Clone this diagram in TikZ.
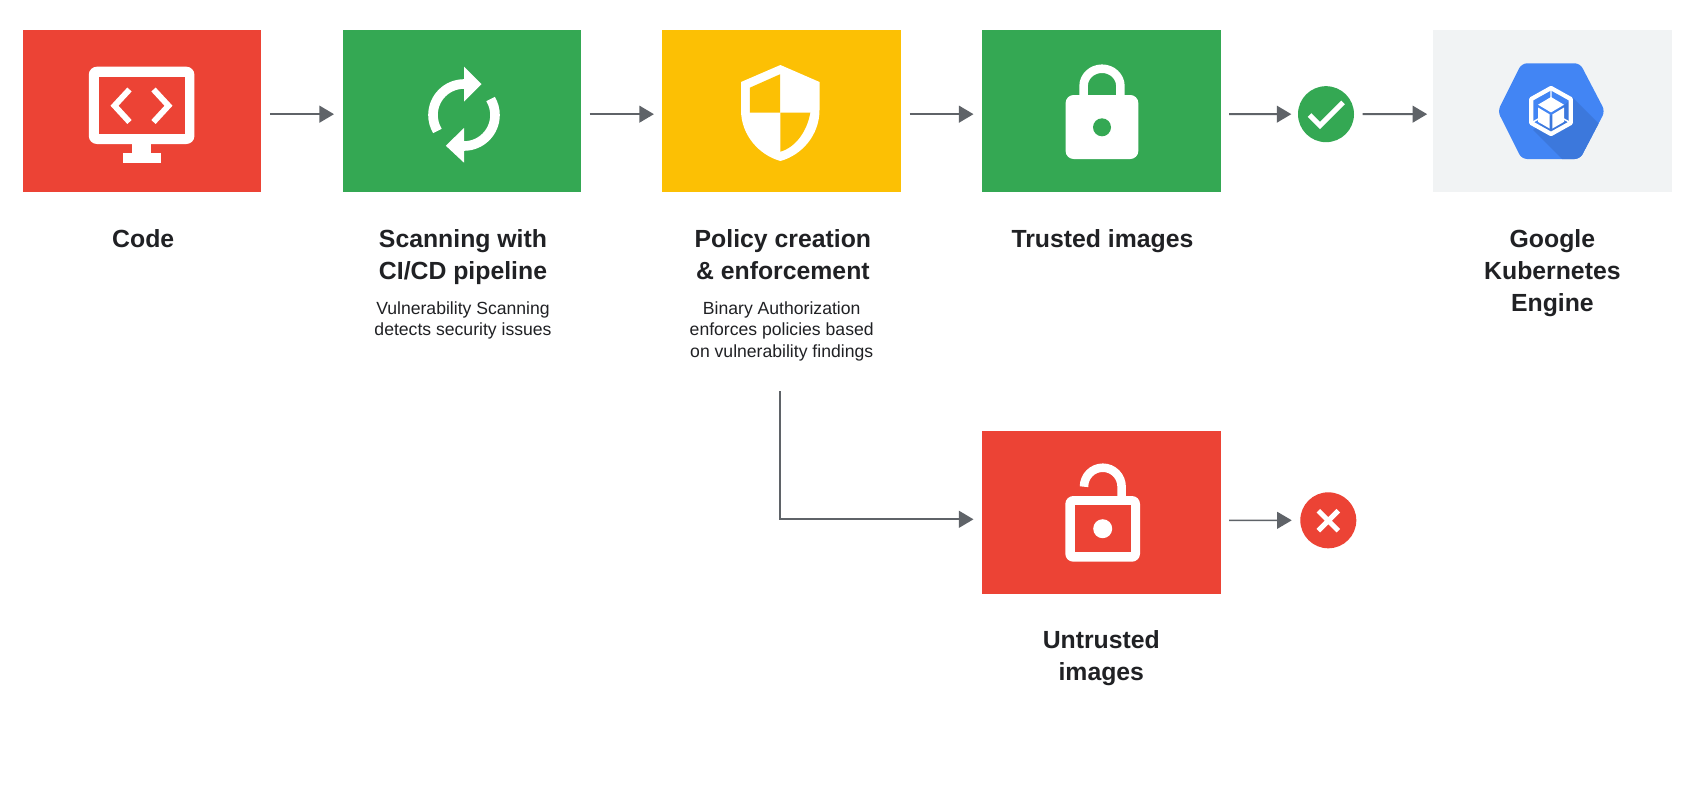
\documentclass[tikz,border=0pt]{standalone}
\usepackage{fontspec}
\setmainfont{Liberation Sans}
\usetikzlibrary{arrows.meta,calc}
\definecolor{gred}{HTML}{EC4335}
\definecolor{ggreen}{HTML}{34A853}
\definecolor{gyellow}{HTML}{FCC004}
\definecolor{gblue}{HTML}{4285F4}
\definecolor{gblued}{HTML}{3C78DC}
\definecolor{gpale}{HTML}{F1F3F4}
\definecolor{garrow}{HTML}{5F6368}
\definecolor{gtext}{HTML}{202124}
\tikzset{
  x=0.75pt,y=-0.75pt,
  stagebox/.style={draw=none,minimum width=178.9pt,minimum height=121.8pt,inner sep=0pt,outer sep=0pt},
  badge/.style={circle,draw=none,minimum size=42pt,inner sep=0pt,outer sep=0pt},
  flow/.style={draw=garrow,line width=1.5pt,-{Triangle[length=10.9pt,width=12.5pt]},shorten <=6.4pt,shorten >=6.4pt},
  heading/.style={anchor=north,align=center,inner sep=0pt,text=gtext,font=\fontsize{18.6}{24}\selectfont\bfseries},
  note/.style={anchor=north,align=center,inner sep=0pt,text=gtext,font=\fontsize{13.2}{16.2}\selectfont},
  glyph/.style={draw=white,fill=none,line join=miter},
}
\begin{document}
\begin{tikzpicture}
\useasboundingbox (0,0) rectangle (1700,793);
\fill[white] (0,0) rectangle (1700,793);
% boxes
\node[stagebox,fill=gred]    (code)   at (142,110.7) {};
\node[stagebox,fill=ggreen]  (scan)   at (461.8,110.7) {};
\node[stagebox,fill=gyellow] (policy) at (781.7,110.7) {};
\node[stagebox,fill=ggreen]  (trust)  at (1101.3,110.7) {};
\node[stagebox,fill=gpale]   (gke)    at (1552.4,110.7) {};
\node[stagebox,fill=gred]    (untrust) at (1101.3,512.5) {};
\node[badge,fill=ggreen] (ok) at (1326,114.17) {};
\node[badge,fill=gred]   (no) at (1328.3,520.3) {};
% connectors
\draw[flow] ([yshift=-2.6pt]code.east) -- ([yshift=-2.6pt]scan.west);
\draw[flow] ([yshift=-2.6pt]scan.east) -- ([yshift=-2.6pt]policy.west);
\draw[flow] ([yshift=-2.6pt]policy.east) -- ([yshift=-2.6pt]trust.west);
\draw[flow,shorten >=5pt] ([yshift=-2.6pt]trust.east) -- (ok.west);
\draw[flow,shorten >=4.5pt] (ok.east) -- ([yshift=-2.6pt]gke.west);
\draw[flow,line width=1.2pt] ([yshift=-5.85pt]untrust.east) -- (no.west);
\coordinate (branch) at (779.5,391.4);
\draw[flow,shorten <=0pt] (branch) |- ([yshift=-5.1pt]untrust.west);
% code icon
\fill[white,rounded corners=6pt] (88.8,66.7) rectangle (194.4,144);
\fill[gred] (98.7,76.7) rectangle (184.5,134.3);
\fill[white] (132,143) rectangle (151,154);
\fill[white] (122.5,153.3) rectangle (160.7,163.3);
\draw[glyph,line width=4.4pt] (129.5,89.5) -- (114.5,105.7) -- (129.5,122);
\draw[glyph,line width=4.4pt] (153.5,89.5) -- (168.5,105.7) -- (153.5,122);
% sync icon
\draw[glyph,line width=7.2pt] (464,84) arc[start angle=90,end angle=211,x radius=31,y radius=-31];
\draw[glyph,line width=7.2pt] (464,146) arc[start angle=270,end angle=391,x radius=31,y radius=-31];
\fill[white] (464,66.7) -- (481.5,84) -- (464,101.7) -- cycle;
\fill[white] (464,128) -- (445.8,145.7) -- (464,162.7) -- cycle;
% shield icon
\fill[white] (780.4,65) -- (819.5,82) -- (819.5,110) .. controls (819.5,135) and (802,155) .. (780.4,161) .. controls (759,155) and (741,135) .. (741,110) -- (741,82) -- cycle;
\fill[gyellow] (749.8,87.7) -- (780,74.3) -- (780,112.7) -- (749.8,112.7) -- cycle;
\fill[gyellow] (780.4,112.7) -- (810.3,112.7) .. controls (807,131) and (796,147) .. (780.4,151.7) -- cycle;
% trusted lock
\draw[glyph,line width=6.4pt] (1083.6,97) -- (1083.6,86) arc[start angle=180,end angle=0,x radius=18.4,y radius=-17.3] -- (1120.4,97);
\fill[white,rounded corners=6pt] (1065.6,95) rectangle (1138.3,159);
\fill[ggreen] (1102,127.3) circle[radius=9];
% hexagon icon
\begin{scope}
\clip[rounded corners=4pt] (1497.7,111.2) -- (1521.7,63.3) -- (1580,63.3) -- (1605,111.2) -- (1580,159) -- (1521.7,159) -- cycle;
\fill[gblue] (1490,55) rectangle (1612,165);
\fill[gblued] (1573,98) -- (1612,137) -- (1612,165) -- (1568,165) -- (1533,130) -- cycle;
\end{scope}
\draw[glyph,line width=3.2pt,line join=round] (1551,88) -- (1570.7,99) -- (1570.7,123) -- (1551,134) -- (1531.3,123) -- (1531.3,99) -- cycle;
\draw[glyph,line width=1.1pt] (1551,88) -- (1551,98) (1531,123) -- (1541,117.5) (1571,123) -- (1561,117.5);
\fill[white] (1551,97) -- (1564,104.7) -- (1551,112.4) -- (1538,104.7) -- cycle;
\fill[white] (1538,107.5) -- (1549.6,114.4) -- (1549.6,128.5) -- (1538,121.8) -- cycle;
\fill[white] (1564,107.5) -- (1552.4,114.4) -- (1552.4,128.5) -- (1564,121.8) -- cycle;
% check and cross
\draw[glyph,line width=3.8pt] (1309.5,115) -- (1320,125.5) -- (1343,102.5);
\draw[glyph,line width=3.8pt] (1318.3,510.7) -- (1338.3,530.7) (1338.3,510.7) -- (1318.3,530.7);
% untrusted lock
\fill[white,rounded corners=6pt] (1065.3,496) rectangle (1140,561.7);
\fill[gred] (1075,505.3) rectangle (1130.7,552.3);
\draw[glyph,line width=6.4pt] (1084,486.7) arc[start angle=180,end angle=0,x radius=18.8,y radius=-19] -- (1121.6,498);
\fill[white] (1102.7,528.7) circle[radius=9.5];
% labels
\node[heading] (t1) at (143.2,229.3) {Code};
\node[heading] (t2) at (463,229.3) {Scanning with\\CI/CD pipeline};
\node[note]    (n2) at (463,301) {Vulnerability Scanning\\detects security issues};
\node[heading] (t3) at (782.9,229.3) {Policy creation\\\& enforcement};
\node[note]    (n3) at (781.7,301) {Binary Authorization\\enforces policies based\\on vulnerability findings};
\node[heading] (t4) at (1102.5,229.3) {Trusted images};
\node[heading] (t5) at (1552.4,229.3) {Google\\Kubernetes\\Engine};
\node[heading] (t6) at (1101.3,630.3) {Untrusted\\images};
\end{tikzpicture}
\end{document}
